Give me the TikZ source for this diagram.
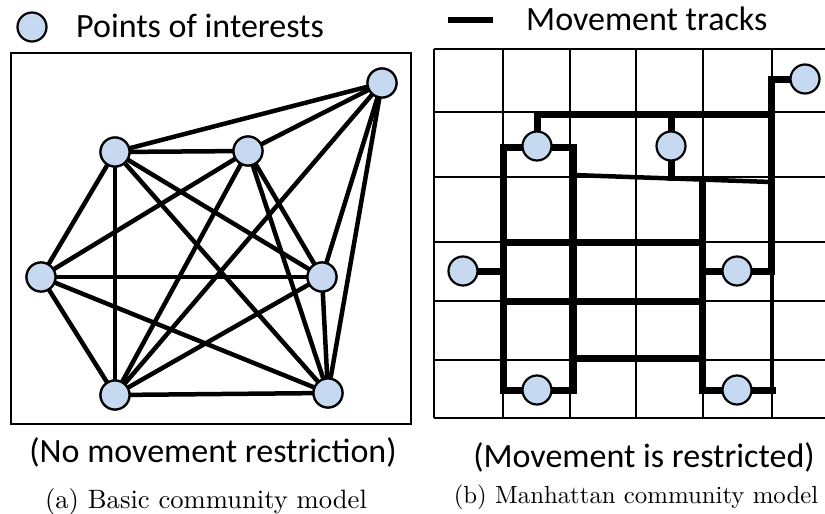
\documentclass[tikz,border=0pt]{standalone}
\usepackage{fontspec}
\newfontfamily\calib{Carlito}
\newfontfamily\lmten{lmroman10-regular}[Extension=.otf]
\definecolor{poifill}{RGB}{198,217,240}
\tikzset{
  poi/.style={circle, draw=black, line width=2.2pt, fill=poifill, minimum size=29pt, inner sep=0pt},
  edge/.style={line width=4.5pt},
  track/.style={line width=7pt, line cap=rect, line join=miter},
  gridline/.style={line width=2.8pt},
  frame/.style={line width=2.2pt},
  lab/.style={font=\calib\fontsize{34}{40}\selectfont, inner sep=0pt},
  captext/.style={font=\lmten\fontsize{26.6}{30}\selectfont, inner sep=0pt},
  captextb/.style={font=\lmten\fontsize{24.8}{30}\selectfont, inner sep=0pt}
}
\begin{document}
\begin{tikzpicture}[x=1pt,y=-1pt]
\useasboundingbox (0,0) rectangle (825,514);
% ---------- legend ----------
\node[poi] (lpoi) at (32,27) {};
\node[lab, anchor=base west] (lpoit) at (76,37) {Points of interests};
\coordinate (lt1) at (448,20);
\coordinate (lt2) at (493,20);
\draw[line width=5.5pt] (lt1) -- (lt2);
\node[lab, anchor=base west] (ltt) at (526,30) {Movement tracks};
% ---------- left panel ----------
\draw[frame] (11,53) rectangle (411,424);
\node[poi] (A) at (382,83) {};
\node[poi] (B) at (115,152) {};
\node[poi] (C) at (248,151) {};
\node[poi] (D) at (41,277) {};
\node[poi] (E) at (322,277) {};
\node[poi] (F) at (115,395) {};
\node[poi] (G) at (328,393) {};
\foreach \a/\b in {A/B,A/C,A/E,A/F,A/G,B/C,B/D,B/E,B/F,B/G,C/D,C/E,C/F,C/G,D/E,D/F,D/G,E/F,E/G,F/G}
  \draw[edge] (\a.center) -- (\b.center);
\foreach \n in {A,B,C,D,E,F,G}
  \node[poi] at (\n) {};
% ---------- right panel ----------
\begin{scope}
\clip (425,40) rectangle (825,430);
\foreach \y in {49,112,177,242,301,360,418}
  \draw[gridline] (434,\y) -- (830,\y);
\foreach \x in {434,503,570,636,703,772}
  \draw[gridline] (\x,49) -- (\x,418);
\end{scope}
% POI positions
\coordinate (q1) at (805,79);
\coordinate (q2) at (537,146);
\coordinate (q3) at (671,146);
\coordinate (q4) at (463,271);
\coordinate (q5) at (737,271);
\coordinate (q6) at (537,390);
\coordinate (q7) at (737,390);
% tracks
\draw[track] (q1) -- (771,79) -- (771,271) -- (702,271);
\draw[track] (771,114) -- (537,114) -- (q2);
\draw[track] (671,114) -- (671,177);
\draw[track] (503,147) rectangle (573,390);
\draw[line width=4.5pt] (573,175) -- (771,182);
\draw[track] (702,180) -- (702,390) -- (772,390);
\draw[line width=4pt] (772,390) -- (772,271);
\draw[track] (503,242) -- (702,242);
\draw[track] (503,301) -- (702,301);
\draw[track] (573,358) -- (702,358);
\draw[track] (q4) -- (503,271);
\foreach \c/\n in {q1/P1,q2/P2,q3/P3,q4/P4,q5/P5,q6/P6,q7/P7}
  \node[poi] (\n) at (\c) {};
% ---------- captions ----------
\node[lab, anchor=base] (c1) at (213,462) {(No movement restriction)};
\node[lab, anchor=base] (c2) at (644,467) {(Movement is restricted)};
\node[captext, anchor=base] (c3) at (206,508) {(a) Basic community model};
\node[captextb, anchor=base] (c4) at (636,503) {(b) Manhattan community model};
\end{tikzpicture}
\end{document}
